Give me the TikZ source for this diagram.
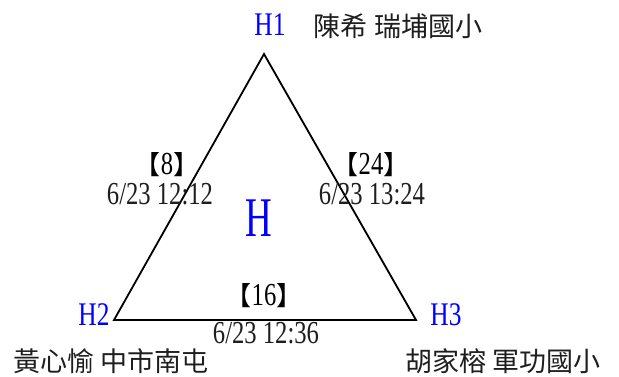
\documentclass[tikz,border=0pt]{standalone}
\usepackage{fontspec}
\setmainfont[FakeStretch=0.77]{Liberation Serif}
\newfontfamily\hfont[FakeStretch=0.66]{Liberation Serif}
\newfontfamily\cjk{Noto Sans CJK TC}
\definecolor{hblue}{RGB}{0,0,255}
\definecolor{ink}{RGB}{30,30,30}
\newcommand{\lb}{{\cjk\fontsize{26}{26}\selectfont【}}
\newcommand{\rb}{{\cjk\fontsize{26}{26}\selectfont】}}
\begin{document}
\begin{tikzpicture}[x=1pt,y=-1pt,
  hlab/.style={inner sep=0pt,text=hblue,font=\fontsize{33}{33}\selectfont},
  person/.style={inner sep=0pt,text=ink,font=\cjk\fontsize{27}{27}\selectfont},
  brk/.style={inner sep=0pt,text=black,font=\fontsize{32}{32}\selectfont},
  stamp/.style={inner sep=0pt,text=ink,font=\fontsize{32}{32}\selectfont},
  edge/.style={draw=black,line width=1.8pt,line join=miter}]
\useasboundingbox (0,0) rectangle (619,376);
\coordinate (t) at (264,54);
\coordinate (l) at (114,320);
\coordinate (r) at (416,320);
\draw[edge] (t) -- (l) -- (r) -- cycle;
\node[hlab] (h1) at (270,25) {H1};
\node[person] (n1) at (398,26) {陳希 瑞埔國小};
\node[hlab] (h2) at (94,315) {H2};
\node[person] (n2) at (111,361) {黃心愉 中市南屯};
\node[hlab] (h3) at (446,315) {H3};
\node[person] (n3) at (503,361) {胡家榕 軍功國小};
\node[inner sep=0pt,text=hblue,font=\hfont\fontsize{56}{56}\selectfont] (hc) at (259,218) {H};
\node[brk] (w1) at (167,165) {\lb 8\rb};
\node[stamp] (d1) at (160,194) {6/23 12:12};
\node[brk] (w2) at (371,165) {\lb 24\rb};
\node[stamp] (d2) at (372,194) {6/23 13:24};
\node[brk] (w3) at (264,296) {\lb 16\rb};
\node[stamp] (d3) at (266,333) {6/23 12:36};
\end{tikzpicture}
\end{document}
